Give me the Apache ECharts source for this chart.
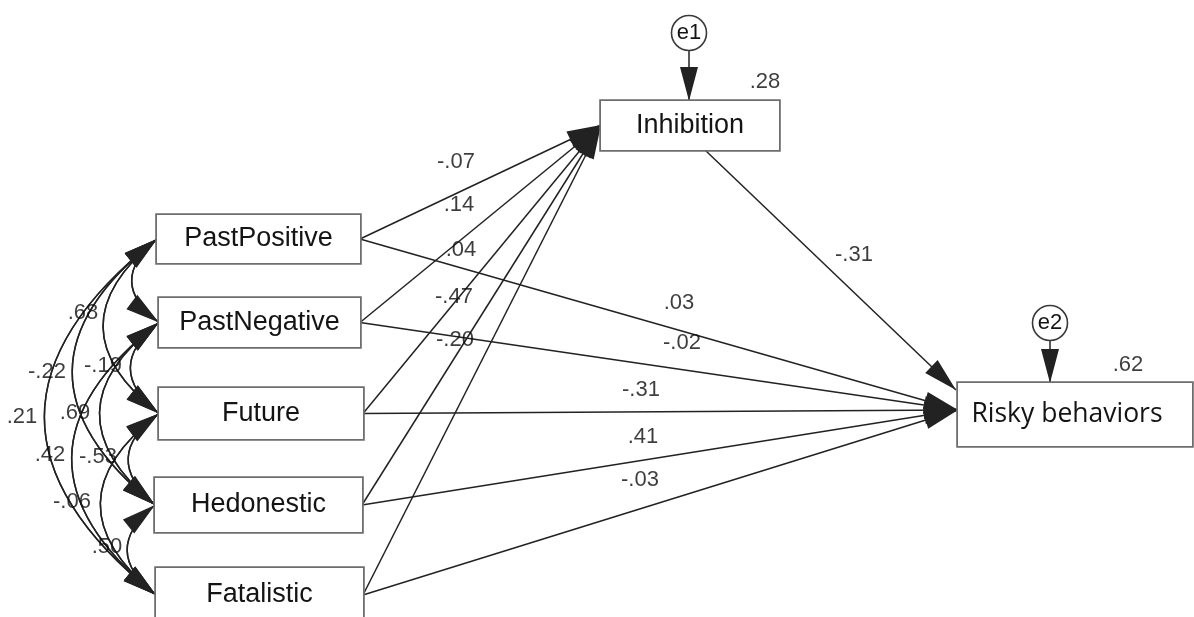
<!DOCTYPE html>
<html><head><meta charset="utf-8">
<script src="https://cdn.jsdelivr.net/npm/echarts@6/dist/echarts.min.js"></script>
<style>html,body{margin:0;padding:0;background:#fff}#main{width:1194px;height:617px}</style>
</head><body><div id="main"></div>
<script>
// ---------------- data ----------------
const predictors = ['PastPositive', 'PastNegative', 'Future', 'Hedonestic', 'Fatalistic'];
const mediator = 'Inhibition';
const outcome = 'Risky behaviors';
const pathsToInhibition = ['-.07', '.14', '.04', '-.47', '-.20'];
const pathsToRisky = ['.03', '-.02', '-.31', '.41', '-.03'];
const inhibitionToRisky = '-.31';
const errorTerms = ['e1', 'e2'];
const squaredMultiple = ['.28', '.62'];
const corrFrom = ['PastPositive', 'PastNegative', 'Future', 'Hedonestic', 'PastPositive', 'PastNegative', 'Future', 'PastPositive', 'PastNegative', 'PastPositive'];
const corrTo   = ['PastNegative', 'Future', 'Hedonestic', 'Fatalistic', 'Future', 'Hedonestic', 'Fatalistic', 'Hedonestic', 'Fatalistic', 'Fatalistic'];
const corrValues = ['', '-.19', '-.53', '.50', '.68', '.69', '-.06', '-.22', '.42', '.21'];

// ---------------- layout (positions / sizes only) ----------------
const boxLayout = {
  'PastPositive':    { x: 258.5, y: 239,   w: 203, h: 48 },
  'PastNegative':    { x: 259.5, y: 322.5, w: 201, h: 49 },
  'Future':          { x: 261,   y: 413.5, w: 204, h: 51 },
  'Hedonestic':      { x: 258.5, y: 505,   w: 207, h: 54 },
  'Fatalistic':      { x: 259.5, y: 595,   w: 207, h: 54 },
  'Inhibition':      { x: 690,   y: 125.5, w: 178, h: 49 },
  'Risky behaviors': { x: 1075,  y: 414.5, w: 234, h: 63 }
};
const errorLayout = { e1: { x: 689, y: 33, to: [689, 101] }, e2: { x: 1050, y: 323, to: [1050, 383] } };
const inhibitionIn = [601, 125];
const inhibitionOut = [705, 150];
const riskyIn = [958, 410];
const riskyInFromInhibition = [956, 390];
const inhLabelPos = [[456, 162], [459, 205], [461, 250], [454, 297], [455, 340]];
const riskyLabelPos = [[679, 303], [682, 343], [641, 390], [643, 437], [640, 480]];
const inhRiskyLabelPos = [854, 255];
const r2Pos = [[765, 82], [1128, 365]];
const corrLabelPos = [null, [103, 366], [98, 457], [107, 547], [83, 313], [75, 413], [72, 502], [47, 372], [50, 455], [22, 417]];
const ARC_CURVENESS = 0.63;

// ---------------- styles ----------------
const ARROW = 'path://M34,34 L43,68 L25,68 Z M0,0 L0.01,0 L0,0.01 Z M68,68 L67.99,68 L68,67.99 Z';
const LINE = { color: '#222', width: 1.5, opacity: 1, curveness: 0 };
const numFont = { fontFamily: 'Liberation Sans', fontSize: 22, color: '#0d0d0d' };
const BOX_BORDER = '#6e6e6e';

// ---------------- build graph ----------------
const nodes = [];
const links = [];
function anchor(name, p) {
  nodes.push({ name: name, value: p, symbol: 'circle', symbolSize: 0, label: { show: false } });
}
predictors.concat([mediator, outcome]).forEach(function (n) {
  const b = boxLayout[n];
  const isOut = n === outcome;
  const padTop = isOut ? 9 : 5;
  const padRight = isOut ? 16 : 0;
  // the box is the node's label frame (keeps uniform border widths)
  nodes.push({
    name: n, value: [b.x, b.y], symbol: 'circle', symbolSize: 0,
    label: {
      show: true, position: 'inside',
      fontFamily: isOut ? 'Open Sans' : 'Liberation Sans',
      fontSize: isOut ? 26.5 : 27, color: '#141414',
      width: b.w - padRight, height: b.h - padTop, lineHeight: b.h - padTop,
      padding: [padTop, padRight, 0, 0],
      align: 'center', verticalAlign: 'middle',
      backgroundColor: '#fff', borderColor: BOX_BORDER, borderWidth: 1.8
    }
  });
});
predictors.forEach(function (n) {
  const b = boxLayout[n];
  anchor(n + '#L', [b.x - b.w / 2, b.y]);
  anchor(n + '#R', [b.x + b.w / 2, b.y]);
});
anchor('InhIn', inhibitionIn);
anchor('InhOut', inhibitionOut);
anchor('RiskyIn', riskyIn);
anchor('RiskyIn2', riskyInFromInhibition);
errorTerms.forEach(function (e) {
  const l = errorLayout[e];
  nodes.push({
    name: e, value: [l.x, l.y], symbol: 'circle', symbolSize: 35,
    itemStyle: { color: '#fff', borderColor: '#3a3a3a', borderWidth: 1.6 },
    label: { show: true, position: 'inside', fontFamily: 'Liberation Sans', fontSize: 22, color: '#141414' }
  });
  anchor(e + '#T', l.to);
  links.push({ source: e, target: e + '#T', symbol: ['none', ARROW] });
});
predictors.forEach(function (n) {
  links.push({ source: n + '#R', target: 'InhIn', symbol: ['none', ARROW] });
  links.push({ source: n + '#R', target: 'RiskyIn', symbol: ['none', ARROW] });
});
links.push({ source: 'InhOut', target: 'RiskyIn2', symbol: ['none', ARROW] });
// double-headed covariance arcs: the same arc drawn from both ends, each with its start arrow
corrFrom.forEach(function (f, i) {
  links.push({ source: f + '#L', target: corrTo[i] + '#L', symbol: [ARROW, 'none'], lineStyle: { curveness: -ARC_CURVENESS } });
  links.push({ source: corrTo[i] + '#L', target: f + '#L', symbol: [ARROW, 'none'], lineStyle: { curveness: ARC_CURVENESS } });
});

// ---------------- text labels ----------------
const texts = [];
pathsToInhibition.forEach(function (v, i) { texts.push({ name: v, value: inhLabelPos[i] }); });
pathsToRisky.forEach(function (v, i) { texts.push({ name: v, value: riskyLabelPos[i] }); });
texts.push({ name: inhibitionToRisky, value: inhRiskyLabelPos });
squaredMultiple.forEach(function (v, i) { texts.push({ name: v, value: r2Pos[i] }); });
corrValues.forEach(function (v, i) { if (v && corrLabelPos[i]) texts.push({ name: v, value: corrLabelPos[i] }); });

const chart = echarts.init(document.getElementById('main'));
chart.setOption({
  backgroundColor: '#fff',
  animation: false,
  grid: { left: 0, right: 0, top: 0, bottom: 0, containLabel: false },
  xAxis: { type: 'value', min: 0, max: 1194, show: false },
  yAxis: { type: 'value', min: 0, max: 617, inverse: true, show: false },
  series: [
    {
      type: 'graph', layout: 'none', coordinateSystem: 'cartesian2d', silent: true,
      edgeSymbolSize: 68,
      lineStyle: LINE,
      edgeLabel: { show: false },
      emphasis: { disabled: true },
      labelLayout: { hideOverlap: false },
      data: nodes,
      links: links,
      z: 2
    },
    {
      type: 'scatter', silent: true, symbolSize: 0, z: 5,
      label: Object.assign({ show: true, position: 'inside', formatter: '{b}' }, numFont),
      data: texts
    }
  ]
});
</script></body></html>
